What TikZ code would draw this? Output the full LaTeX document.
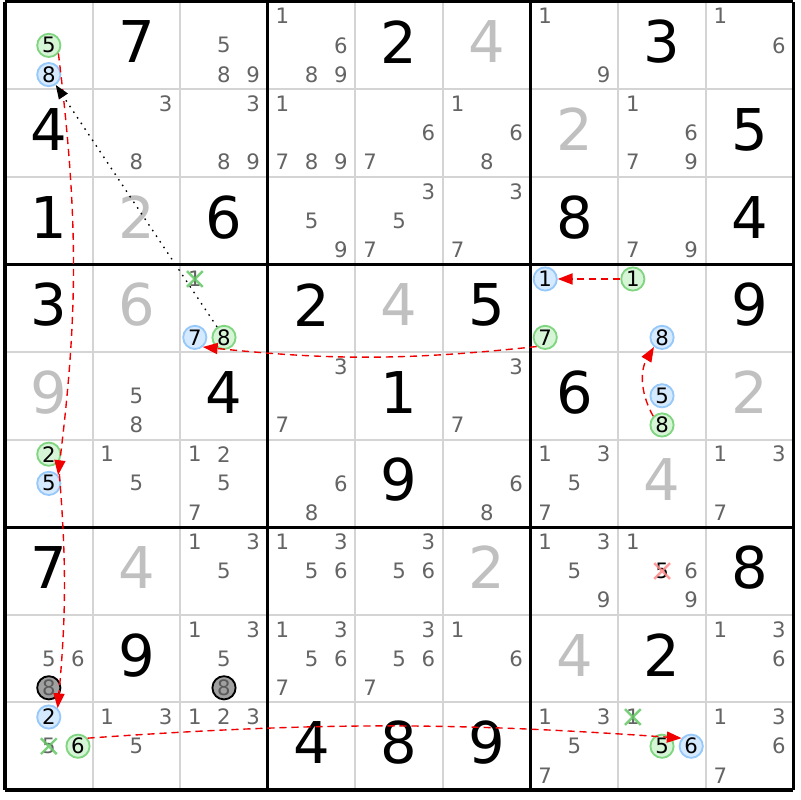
\documentclass[tikz,border=0pt]{standalone}
\usepackage{fontspec}
\setmainfont{DejaVu Sans}
\usetikzlibrary{arrows.meta}
\definecolor{candgray}{RGB}{100,100,100}
\definecolor{solvgray}{RGB}{192,192,192}
\definecolor{gridgray}{RGB}{212,212,212}
\definecolor{onfill}{RGB}{214,244,214}
\definecolor{ondraw}{RGB}{128,214,128}
\definecolor{offfill}{RGB}{214,234,255}
\definecolor{offdraw}{RGB}{150,200,250}
\definecolor{pinfill}{RGB}{160,160,160}
\definecolor{crossgreen}{RGB}{100,200,100}
\definecolor{crossred}{RGB}{255,140,140}
\definecolor{linkred}{RGB}{240,0,0}
% small candidate digit of cell (row,col)
\newcommand\candat[4][]{%
  \pgfmathsetmacro\cx{#3-1+(mod(#4-1,3)*2+1)/6}%
  \pgfmathsetmacro\cy{9-#2+(5-floor((#4-1)/3)*2)/6}%
  \node[cand,#1] (p#2#3#4) at (\cx,\cy) {#4};}
\newcommand\cands[3]{\foreach \d in {#3}{\candat{#1}{#2}{\d}}}
\newcommand\given[3]{\node[big] (g#1#2) at (#2-0.5,9.54-#1) {#3};}
\newcommand\solved[3]{\node[big,text=solvgray] (g#1#2) at (#2-0.5,9.54-#1) {#3};}
\newcommand\elimx[2][crossgreen]{\draw[#1,line width=0.8pt,opacity=0.85]
  (#2) +(-0.09,-0.09) -- +(0.09,0.09) +(-0.09,0.09) -- +(0.09,-0.09);}

\begin{document}
\begin{tikzpicture}[x=1cm,y=1cm,
  cand/.style={font=\fontsize{6.9}{8}\selectfont,text=candgray,inner sep=0pt},
  big/.style={font=\fontsize{18.7}{20}\selectfont,inner sep=0pt},
  oncand/.style={circle,draw=ondraw,fill=onfill,line width=0.6pt,minimum size=0.265cm,text=black},
  offcand/.style={circle,draw=offdraw,fill=offfill,line width=0.6pt,minimum size=0.265cm,text=black},
  pinned/.style={circle,draw=black,fill=pinfill,line width=0.6pt,minimum size=0.265cm,text=candgray!90!black},
  link/.style={linkred,dash pattern=on 2.3pt off 1.6pt,line width=0.45pt,-{Triangle[length=4.8pt,width=3.6pt]}},
  weak/.style={black,dash pattern=on 0.5pt off 1.7pt,line width=0.45pt,-{Triangle[length=4.5pt,width=3.4pt]}}]
\useasboundingbox (-0.057,-0.114) rectangle (9.075,9.018);

% grid
\foreach \i in {1,2,4,5,7,8} {
  \draw[gridgray,line width=0.65pt] (\i,0) -- (\i,9);
  \draw[gridgray,line width=0.65pt] (0,\i) -- (9,\i);
}
\foreach \i in {0,3,6,9} {
  \draw[line width=1pt] (\i,0) -- (\i,9);
  \draw[line width=1pt] (0,\i) -- (9,\i);
}

% givens and solved cells
\given{1}{2}{7} \given{1}{5}{2} \given{1}{8}{3} \solved{1}{6}{4}
\given{2}{1}{4} \given{2}{9}{5} \solved{2}{7}{2}
\given{3}{1}{1} \given{3}{3}{6} \given{3}{7}{8} \given{3}{9}{4} \solved{3}{2}{2}
\given{4}{1}{3} \given{4}{4}{2} \given{4}{6}{5} \given{4}{9}{9}
\solved{4}{2}{6} \solved{4}{5}{4}
\given{5}{3}{4} \given{5}{5}{1} \given{5}{7}{6} \solved{5}{1}{9} \solved{5}{9}{2}
\given{6}{5}{9} \solved{6}{8}{4}
\given{7}{1}{7} \given{7}{9}{8} \solved{7}{2}{4} \solved{7}{6}{2}
\given{8}{2}{9} \given{8}{8}{2} \solved{8}{7}{4}
\given{9}{4}{4} \given{9}{5}{8} \given{9}{6}{9}

% candidates
\cands{1}{3}{5,8,9} \cands{1}{4}{1,6,8,9} \cands{1}{7}{1,9} \cands{1}{9}{1,6}
\cands{2}{2}{3,8} \cands{2}{3}{3,8,9} \cands{2}{4}{1,7,8,9} \cands{2}{5}{6,7}
\cands{2}{6}{1,6,8} \cands{2}{8}{1,6,7,9}
\cands{3}{4}{5,9} \cands{3}{5}{3,5,7} \cands{3}{6}{3,7} \cands{3}{8}{7,9}
\cands{4}{3}{1}
\cands{5}{2}{5,8} \cands{5}{4}{3,7} \cands{5}{6}{3,7}
\cands{6}{2}{1,5} \cands{6}{3}{1,2,5,7} \cands{6}{4}{6,8} \cands{6}{6}{6,8}
\cands{6}{7}{1,3,5,7} \cands{6}{9}{1,3,7}
\cands{7}{3}{1,3,5} \cands{7}{4}{1,3,5,6} \cands{7}{5}{3,5,6}
\cands{7}{7}{1,3,5,9} \cands{7}{8}{1,6,9}
\cands{8}{1}{5,6} \cands{8}{3}{1,3,5} \cands{8}{4}{1,3,5,6,7}
\cands{8}{5}{3,5,6,7} \cands{8}{6}{1,6} \cands{8}{9}{1,3,6}
\cands{9}{1}{5} \cands{9}{2}{1,3,5} \cands{9}{3}{1,2,3} \cands{9}{7}{1,3,5,7}
\cands{9}{8}{1} \cands{9}{9}{1,3,6,7}

% chain cells
\candat[oncand]{1}{1}{5} \candat[offcand]{1}{1}{8}
\candat[offcand]{4}{3}{7} \candat[oncand]{4}{3}{8}
\candat[offcand]{4}{7}{1} \candat[oncand]{4}{7}{7}
\candat[oncand]{4}{8}{1} \candat[offcand]{4}{8}{8}
\candat[offcand]{5}{8}{5} \candat[oncand]{5}{8}{8}
\candat[oncand]{6}{1}{2} \candat[offcand]{6}{1}{5}
\candat[text=black]{7}{8}{5}
\candat[pinned]{8}{1}{8} \candat[pinned]{8}{3}{8}
\candat[offcand]{9}{1}{2} \candat[oncand]{9}{1}{6}
\candat[oncand]{9}{8}{5} \candat[offcand]{9}{8}{6}

% eliminations
\elimx{p431} \elimx{p915} \elimx{p981}
\elimx[crossred]{p785}

% links
\draw[link] (p115.-40) to[bend left=7] (p615.42);
\draw[link] (p612.-40) to[bend left=5] (p912.45);
\draw[link] (p916.40) to[bend left=4] (p986.140);
\draw[link] (p588.135) to[bend left=30] (p488.-130);
\draw[link] (p481) -- (p471);
\draw[link] (p477.-133) to[bend left=6] (p437.-50);
\draw[weak] (p438) -- (p118);
\end{tikzpicture}
\end{document}
